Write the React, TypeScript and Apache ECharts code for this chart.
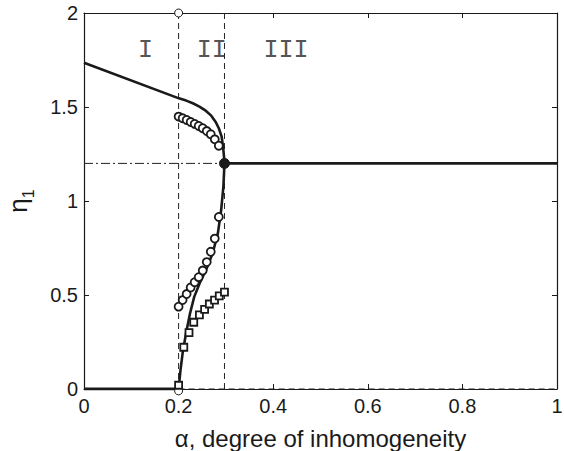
import React, { useEffect, useRef } from "react";
import * as echarts from "echarts";

const xTicks = [0, 0.2, 0.4, 0.6, 0.8, 1];
const yTicks = [0, 0.5, 1, 1.5, 2];

const alphaLow = 0.2;
const alphaCrit = 0.297;
const etaCrit = 1.2;

const upperCurveAlpha = [0, 0.2007, 0.216, 0.23, 0.244, 0.258, 0.269, 0.278, 0.285, 0.291, 0.294, 0.296, 0.297];
const upperCurveEta = [1.735, 1.546, 1.534, 1.52, 1.502, 1.479, 1.454, 1.422, 1.387, 1.342, 1.289, 1.236, 1.2];

const lowerCurveAlpha = [0.297, 0.2947, 0.29, 0.283, 0.272, 0.258, 0.245, 0.233, 0.224, 0.216, 0.209, 0.204, 0.2];
const lowerCurveEta = [1.2, 1.076, 0.952, 0.828, 0.722, 0.633, 0.565, 0.49, 0.4, 0.3, 0.2, 0.1, 0];

const circleAlpha = [0.2, 0.2085, 0.217, 0.2255, 0.234, 0.2425, 0.251, 0.2595, 0.268, 0.2765, 0.285];
const upperCircleEta = [1.449, 1.44, 1.431, 1.42, 1.41, 1.399, 1.387, 1.372, 1.355, 1.328, 1.294];
const lowerCircleEta = [0.438, 0.473, 0.505, 0.54, 0.568, 0.595, 0.63, 0.675, 0.73, 0.8, 0.915];

const squareAlpha = [0.2, 0.211, 0.222, 0.232, 0.244, 0.255, 0.265, 0.276, 0.286, 0.297];
const squareEta = [0.02, 0.222, 0.3, 0.355, 0.394, 0.424, 0.452, 0.473, 0.495, 0.515];

const regionNames = ["I", "II", "III"];
const regionAlpha = [0.13, 0.27, 0.427];
const regionEta = 1.8;

const FONT = "'Liberation Sans', Arial, Helvetica, sans-serif";
const INK = "#1a1a1a";

const zip = (a: number[], b: number[]) => a.map((v, i) => [v, b[i]]);

export default function App() {
  const ref = useRef<HTMLDivElement>(null);
  useEffect(() => {
    if (!ref.current) return;
    const chart = echarts.init(ref.current, null, { renderer: "svg" });
    const axisLine = { show: true, onZero: false, lineStyle: { color: INK, width: 1.2 } };
    const axisTick = { show: true, inside: true, length: 5, lineStyle: { color: INK, width: 1 } };
    const solid = (data: number[][], width = 2.6) => ({
      type: "line",
      data,
      showSymbol: false,
      symbol: "none",
      smooth: false,
      lineStyle: { color: INK, width, type: "solid" },
      z: 3,
    });
    const dashed = (data: number[][], dash: any) => ({
      type: "line",
      data,
      showSymbol: false,
      symbol: "none",
      lineStyle: { color: "#222", width: 1, type: dash },
      z: 2,
    });
    const option: any = {
      animation: false,
      grid: { left: 84, right: 7, top: 13, bottom: 62, containLabel: false, outerBoundsMode: "none" },
      xAxis: [
        {
          type: "value",
          min: xTicks[0],
          max: xTicks[xTicks.length - 1],
          interval: 0.2,
          axisLine,
          axisTick,
          splitLine: { show: false },
          axisLabel: { fontSize: 20, color: INK, fontFamily: FONT, margin: 7 },
          name: "α, degree of inhomogeneity",
          nameLocation: "middle",
          nameGap: 37,
          nameTextStyle: { fontSize: 24, color: INK, fontFamily: FONT },
        },
        {
          type: "value",
          position: "top",
          min: 0,
          max: 1,
          interval: 0.2,
          axisLine,
          axisTick,
          splitLine: { show: false },
          axisLabel: { show: false },
        },
      ],
      yAxis: [
        {
          type: "value",
          min: yTicks[0],
          max: yTicks[yTicks.length - 1],
          interval: 0.5,
          axisLine,
          axisTick,
          splitLine: { show: false },
          axisLabel: { fontSize: 20, color: INK, fontFamily: FONT, margin: 6 },
          name: "{a|η}{b|1}",
          nameLocation: "middle",
          nameRotate: 90,
          nameGap: 48,
          nameTextStyle: {
            color: INK,
            rich: {
              a: { fontSize: 26, fontFamily: FONT, color: INK },
              b: { fontSize: 16, fontFamily: FONT, color: INK, verticalAlign: "bottom", lineHeight: 36 },
            },
          },
        },
        {
          type: "value",
          position: "right",
          min: 0,
          max: 2,
          interval: 0.5,
          axisLine,
          axisTick,
          splitLine: { show: false },
          axisLabel: { show: false },
        },
      ],
      series: [
        dashed([[alphaLow, 0], [alphaLow, 2]], [6, 4]),
        dashed([[alphaCrit, 0], [alphaCrit, 2]], [6, 4]),
        dashed([[alphaLow, 0], [1, 0]], [6, 4]),
        dashed([[0, etaCrit], [alphaCrit, etaCrit]], [9, 3, 2, 3]),
        solid(zip(upperCurveAlpha, upperCurveEta)),
        solid(zip(lowerCurveAlpha, lowerCurveEta)),
        solid([[alphaCrit, etaCrit], [1, etaCrit]], 2.8),
        solid([[0, 0], [alphaLow, 0]], 2.8),
        {
          type: "scatter",
          data: zip(circleAlpha, upperCircleEta).concat(zip(circleAlpha, lowerCircleEta)),
          symbol: "circle",
          symbolSize: 8,
          clip: false,
          itemStyle: { color: "#fff", borderColor: INK, borderWidth: 1.8, opacity: 1 },
          z: 4,
        },
        {
          type: "scatter",
          data: zip(squareAlpha, squareEta),
          symbol: "rect",
          symbolSize: 7,
          clip: false,
          itemStyle: { color: "#fff", borderColor: INK, borderWidth: 1.8, opacity: 1 },
          z: 5,
        },
        {
          type: "scatter",
          data: [[alphaLow, 2], [alphaLow, -0.01]],
          symbol: "circle",
          symbolSize: 8,
          clip: false,
          itemStyle: { color: "#fff", borderColor: INK, borderWidth: 1, opacity: 1 },
          z: 3,
        },
        {
          type: "scatter",
          data: [[alphaCrit, etaCrit]],
          symbol: "circle",
          symbolSize: 10,
          clip: false,
          itemStyle: { color: INK, borderColor: INK, borderWidth: 1, opacity: 1 },
          z: 6,
        },
        {
          type: "scatter",
          data: regionNames.map((n, i) => ({ name: n, value: [regionAlpha[i], regionEta] })),
          symbolSize: 0,
          itemStyle: { color: "#555", opacity: 1 },
          label: {
            show: true,
            opacity: 1,
            position: "inside",
            formatter: (p: any) => p.name,
            fontFamily: "'Liberation Mono', 'Courier New', monospace",
            fontSize: 25,
            color: "#555",
            textBorderWidth: 0,
            textBorderColor: "transparent",
          },
          z: 1,
        },
      ],
    };
    chart.setOption(option);
    return () => chart.dispose();
  }, []);
  return (
    <div
      ref={ref}
      style={{ position: "fixed", left: 0, top: 0, width: 564, height: 451, background: "#fff" }}
    />
  );
}
